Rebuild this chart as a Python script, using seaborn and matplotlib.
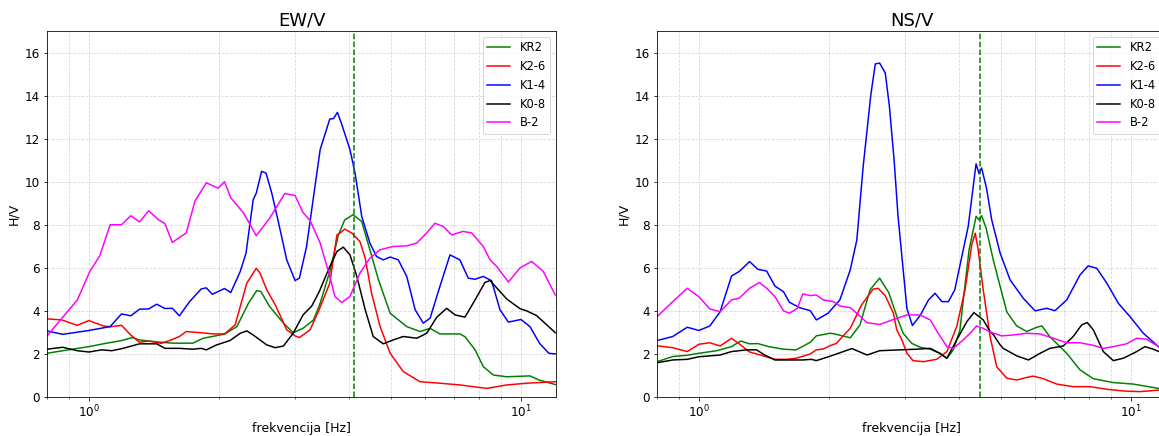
import matplotlib
matplotlib.use('Agg')
import matplotlib.pyplot as plt
import seaborn as sns

# ---- EW/V ----
ew_kr2_f = [0.80, 0.87, 1.0, 1.10, 1.19, 1.26, 1.31, 1.435, 1.57, 1.74, 1.84, 2.06, 2.20, 2.34, 2.445, 2.50, 2.62, 2.82,
            2.97, 3.13, 3.31, 3.42, 3.61, 3.78, 3.91, 4.09, 4.28, 4.47, 4.68, 4.98, 5.44, 5.84, 6.16, 6.49, 7.22, 7.42,
            7.83, 8.18, 8.63, 9.27, 10.49, 11.0, 12.0]
ew_kr2 = [2.03, 2.15, 2.34, 2.5, 2.62, 2.76, 2.65, 2.56, 2.5, 2.5, 2.73, 2.92, 3.27, 4.35, 4.94, 4.90, 4.20, 3.43,
          2.99, 3.19, 3.58, 4.28, 5.83, 7.53, 8.23, 8.47, 8.15, 6.84, 5.44, 3.89, 3.27, 3.04, 3.19, 2.93, 2.93, 2.8,
          2.19, 1.41, 1.02, 0.94, 0.98, 0.79, 0.58]

ew_k26_f = [0.80, 0.865, 0.94, 1.0, 1.08, 1.12, 1.19, 1.25, 1.31, 1.375, 1.47, 1.55, 1.62, 1.68, 1.81, 1.94, 2.06,
            2.18, 2.32, 2.44, 2.49, 2.58, 2.70, 2.87, 3.0, 3.07, 3.25, 3.41, 3.61, 3.75, 3.81, 3.91, 4.06, 4.24, 4.36,
            4.51, 4.72, 4.98, 5.34, 5.84, 6.49, 7.22, 8.33, 9.27, 10.31, 12.0]
ew_k26 = [3.63, 3.58, 3.33, 3.55, 3.30, 3.26, 3.33, 2.88, 2.54, 2.6, 2.49, 2.65, 2.81, 3.04, 2.99, 2.93, 2.93,
          3.35, 5.29, 5.98, 5.75, 4.98, 4.28, 3.12, 2.84, 2.76, 3.12, 4.05, 5.29, 7.53, 7.61, 7.80, 7.61, 7.22, 6.45,
          4.82, 3.27, 2.03, 1.18, 0.71, 0.64, 0.56, 0.40, 0.56, 0.64, 0.71]

ew_k14_f = [0.80, 0.87, 1.0, 1.12, 1.19, 1.25, 1.31, 1.375, 1.435, 1.50, 1.56, 1.62, 1.71, 1.82, 1.87, 1.93, 2.06,
            2.13, 2.24, 2.31, 2.40, 2.44, 2.51, 2.57, 2.65, 2.74, 2.87, 3.0, 3.07, 3.19, 3.31, 3.43, 3.61, 3.68, 3.76,
            3.85, 4.02, 4.13, 4.28, 4.47, 4.63, 4.80, 4.98, 5.20, 5.44, 5.69, 5.94, 6.16, 6.49, 6.85, 7.22, 7.55,
            7.83, 8.18, 8.55, 8.94, 9.35, 10.0, 10.49, 11.04, 11.6, 12.0]
ew_k14 = [3.07, 2.91, 3.09, 3.27, 3.86, 3.77, 4.08, 4.09, 4.31, 4.11, 4.12, 3.77, 4.43, 5.02, 5.07, 4.77, 5.04,
          4.85, 5.83, 6.68, 9.16, 9.47, 10.48, 10.4, 9.47, 8.2, 6.37, 5.41, 5.52, 6.99, 9.3, 11.5, 12.91, 12.93, 13.22,
          12.65, 11.49, 10.4, 8.39, 7.15, 6.53, 6.37, 6.5, 6.37, 5.6, 4.05, 3.43, 3.66, 5.13, 6.6, 6.37, 5.52,
          5.47, 5.6, 5.4, 4.05, 3.48, 3.6, 3.27, 2.49, 2.03, 2.0]

ew_k08_f = [0.80, 0.87, 0.94, 1.0, 1.07, 1.13, 1.20, 1.31, 1.435, 1.50, 1.62, 1.74, 1.82, 1.87, 1.975, 2.12, 2.24,
            2.32, 2.40, 2.58, 2.70, 2.82, 2.97, 3.13, 3.28, 3.41, 3.61, 3.75, 3.88, 4.02, 4.17, 4.36, 4.55, 4.80, 5.06,
            5.34, 5.74, 6.05, 6.38, 6.73, 7.04, 7.42, 7.83, 8.25, 8.48, 8.94, 9.27, 9.95, 10.31, 10.87, 11.47, 12.0]
ew_k08 = [2.22, 2.31, 2.15, 2.09, 2.19, 2.15, 2.26, 2.47, 2.47, 2.26, 2.26, 2.22, 2.26, 2.19, 2.42, 2.62, 2.96,
          3.07, 2.88, 2.42, 2.29, 2.37, 2.96, 3.81, 4.23, 4.88, 6.06, 6.76, 6.96, 6.60, 5.6, 4.05, 2.81, 2.47, 2.65,
          2.81, 2.73, 2.96, 3.7, 4.12, 3.81, 3.71, 4.51, 5.32, 5.41, 4.9, 4.55, 4.1, 4.0, 3.78, 3.35, 2.99]

ew_b2_f = [0.80, 0.94, 1.005, 1.06, 1.12, 1.19, 1.25, 1.31, 1.375, 1.45, 1.50, 1.56, 1.68, 1.76, 1.87, 1.99, 2.06,
           2.13, 2.28, 2.44, 2.62, 2.84, 3.0, 3.13, 3.25, 3.43, 3.61, 3.71, 3.85, 4.02, 4.24, 4.47, 4.72, 5.05, 5.44,
           5.74, 6.05, 6.32, 6.61, 6.91, 7.34, 7.69, 8.18, 8.48, 8.79, 9.35, 9.95, 10.59, 11.26, 12.0]
ew_b2 = [2.84, 4.5, 5.83, 6.56, 8.0, 8.0, 8.42, 8.13, 8.65, 8.23, 8.05, 7.18, 7.62, 9.1, 9.95, 9.7, 10.0,
         9.25, 8.55, 7.49, 8.3, 9.45, 9.36, 8.57, 8.2, 7.15, 5.6, 4.67, 4.39, 4.67, 5.76, 6.45, 6.84, 6.99, 7.02,
         7.15, 7.62, 8.07, 7.92, 7.53, 7.69, 7.62, 6.99, 6.37, 6.06, 5.34, 6.0, 6.3, 5.83, 4.74]

# ---- NS/V ----
ns_kr2_f = [0.80, 0.87, 0.94, 1.0, 1.10, 1.19, 1.25, 1.31, 1.37, 1.45, 1.57, 1.68, 1.81, 1.87, 2.01, 2.05, 2.24,
            2.36, 2.49, 2.62, 2.75, 2.90, 2.97, 3.11, 3.25, 3.43, 3.61, 3.75, 3.88, 4.02, 4.08, 4.22, 4.38, 4.45, 4.51,
            4.62, 4.80, 4.98, 5.16, 5.44, 5.74, 6.05, 6.22, 6.49, 7.10, 7.62, 8.18, 9.10, 10.12, 11.57, 12.0]
ns_kr2 = [1.64, 1.88, 1.94, 2.03, 2.15, 2.34, 2.6, 2.47, 2.48, 2.34, 2.22, 2.19, 2.54, 2.84, 2.96, 2.94, 2.75,
          3.35, 4.98, 5.52, 4.85, 3.5, 2.96, 2.49, 2.31, 2.22, 2.03, 1.80, 2.19, 3.12, 4.3, 6.84, 8.39, 8.23, 8.42,
          7.85, 6.37, 5.13, 3.95, 3.3, 3.04, 3.24, 3.30, 2.8, 2.03, 1.26, 0.85, 0.67, 0.60, 0.40, 0.38]

ns_k26_f = [0.80, 0.87, 0.94, 1.0, 1.06, 1.12, 1.19, 1.24, 1.31, 1.41, 1.50, 1.60, 1.68, 1.81, 1.87, 1.94, 2.01,
            2.08, 2.24, 2.38, 2.53, 2.60, 2.70, 2.82, 2.87, 2.95, 3.03, 3.13, 3.31, 3.55, 3.75, 3.95, 4.13, 4.28, 4.36,
            4.43, 4.55, 4.72, 4.89, 5.16, 5.44, 5.74, 5.94, 6.27, 6.73, 7.35, 8.04, 8.79, 9.60, 10.49, 11.57, 12.0]
ns_k26 = [2.38, 2.29, 2.11, 2.45, 2.52, 2.37, 2.73, 2.47, 2.09, 1.91, 1.75, 1.75, 1.80, 2.0, 2.19, 2.23, 2.38,
          2.49, 3.19, 4.28, 5.01, 5.05, 4.7, 3.89, 3.12, 2.65, 2.03, 1.69, 1.64, 1.75, 2.11, 3.27, 4.98, 7.07, 7.61,
          6.84, 4.98, 2.8, 1.4, 0.87, 0.79, 0.91, 0.97, 0.85, 0.60, 0.48, 0.48, 0.36, 0.28, 0.25, 0.32, 0.34]

ns_k14_f = [0.80, 0.87, 0.94, 1.0, 1.06, 1.12, 1.19, 1.24, 1.31, 1.37, 1.435, 1.50, 1.57, 1.62, 1.71, 1.81, 1.87,
            1.99, 2.12, 2.24, 2.32, 2.40, 2.50, 2.56, 2.62, 2.70, 2.76, 2.83, 2.89, 3.03, 3.12, 3.25, 3.40, 3.52, 3.65,
            3.78, 3.91, 4.06, 4.20, 4.38, 4.45, 4.51, 4.63, 4.76, 4.98, 5.25, 5.63, 6.0, 6.38, 6.67, 7.10, 7.62,
            7.96, 8.33, 8.79, 9.35, 9.95, 10.68, 11.57, 12.0]
ns_k14 = [2.62, 2.81, 3.24, 3.09, 3.30, 3.96, 5.62, 5.83, 6.29, 5.93, 5.85, 5.15, 4.89, 4.40, 4.15, 4.01, 3.58,
          3.89, 4.51, 5.90, 7.29, 10.71, 14.04, 15.47, 15.51, 15.05, 13.5, 11.0, 8.39, 4.1, 3.32, 3.78, 4.51, 4.82,
          4.43, 4.43, 4.98, 6.53, 7.92, 10.83, 10.37, 10.64, 9.71, 8.23, 6.68, 5.44, 4.59, 4.0, 4.12, 4.01, 4.51,
          5.67, 6.09, 5.98, 5.29, 4.35, 3.73, 2.96, 2.34, 2.15]

ns_k08_f = [0.80, 0.87, 0.94, 1.0, 1.12, 1.19, 1.29, 1.36, 1.42, 1.50, 1.62, 1.74, 1.82, 1.87, 2.01, 2.26, 2.45,
            2.62, 2.92, 3.19, 3.43, 3.61, 3.75, 3.95, 4.17, 4.33, 4.55, 4.72, 4.80, 4.98, 5.06, 5.44, 5.79, 6.16, 6.49,
            6.97, 7.35, 7.69, 7.92, 8.18, 8.63, 9.10, 9.60, 10.31, 10.77, 11.26, 11.61, 12.0]
ns_k08 = [1.59, 1.72, 1.75, 1.87, 1.95, 2.11, 2.19, 2.19, 1.95, 1.72, 1.72, 1.72, 1.75, 1.69, 1.89, 2.25, 1.95,
          2.15, 2.19, 2.22, 2.26, 2.03, 1.80, 2.65, 3.50, 3.92, 3.58, 3.04, 2.90, 2.42, 2.26, 1.91, 1.72, 2.03, 2.26,
          2.37, 2.81, 3.35, 3.46, 3.12, 2.11, 1.69, 1.80, 2.11, 2.34, 2.22, 2.11, 2.08]

ns_b2_f = [0.80, 0.87, 0.94, 1.0, 1.06, 1.12, 1.19, 1.24, 1.31, 1.38, 1.435, 1.50, 1.57, 1.62, 1.69, 1.74, 1.81,
           1.87, 1.94, 2.05, 2.12, 2.24, 2.32, 2.45, 2.62, 2.82, 3.03, 3.25, 3.43, 3.58, 3.75, 3.88, 4.09, 4.28, 4.39,
           4.55, 4.76, 5.02, 5.34, 5.74, 6.16, 6.61, 7.10, 7.62, 8.18, 8.63, 9.10, 9.77, 10.31, 10.87, 11.57, 12.0]
ns_b2 = [3.73, 4.43, 5.05, 4.66, 4.09, 3.96, 4.51, 4.59, 5.05, 5.32, 5.05, 4.66, 4.0, 3.89, 4.12, 4.79, 4.71,
         4.74, 4.51, 4.43, 4.23, 4.15, 3.89, 3.45, 3.37, 3.60, 3.81, 3.81, 3.58, 2.96, 2.34, 2.26, 2.65, 3.04, 3.30,
         3.19, 2.99, 2.84, 2.88, 2.96, 2.93, 2.73, 2.52, 2.52, 2.40, 2.26, 2.34, 2.47, 2.73, 2.68, 2.34, 2.15]

labels = ['KR2', 'K2-6', 'K1-4', 'K0-8', 'B-2']
colors = ['green', 'red', 'blue', 'black', 'magenta']
f0_ew = 4.11   # isprekidana linija
f0_ns = 4.47

fig = plt.figure(figsize=(1159 / 72, 436 / 72), dpi=72)
ax1 = fig.add_axes([47 / 1159, 39 / 436, 509 / 1159, 366 / 436])
ax2 = fig.add_axes([657 / 1159, 39 / 436, 509 / 1159, 366 / 436])

panels = [
    (ax1, 'EW/V', [(ew_kr2_f, ew_kr2), (ew_k26_f, ew_k26), (ew_k14_f, ew_k14), (ew_k08_f, ew_k08), (ew_b2_f, ew_b2)], f0_ew),
    (ax2, 'NS/V', [(ns_kr2_f, ns_kr2), (ns_k26_f, ns_k26), (ns_k14_f, ns_k14), (ns_k08_f, ns_k08), (ns_b2_f, ns_b2)], f0_ns),
]

for ax, title, series, f0 in panels:
    for (f, hv), lab, c in zip(series, labels, colors):
        sns.lineplot(x=f, y=hv, ax=ax, color=c, label=lab, linewidth=1.5, estimator=None)
    ax.axvline(f0, color='green', linestyle='--', linewidth=1.5)
    ax.set_xscale('log')
    ax.set_xlim(0.8, 12.05)
    ax.set_ylim(0, 17)
    ax.set_yticks(range(0, 17, 2))
    ax.grid(True, which='both', linestyle='--', color='#b0b0b0', alpha=0.5, linewidth=0.8)
    ax.tick_params(labelsize=12)
    ax.set_title(title, fontsize=18)
    ax.set_xlabel('frekvencija [Hz]', fontsize=12.5, labelpad=1)
    ax.set_ylabel('H/V', fontsize=12.5)
    ax.legend(loc='upper right', fontsize=11.5)

fig.savefig('out.png', dpi=72)
